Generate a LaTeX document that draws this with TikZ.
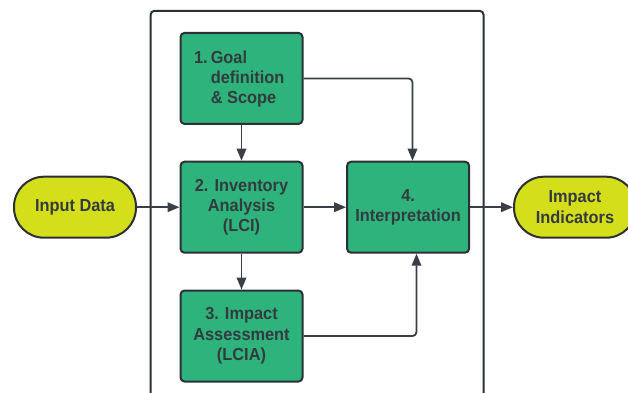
\documentclass[tikz,border=0pt]{standalone}
\usepackage{fontspec}
\setmainfont[FakeStretch=0.94]{Liberation Sans}
\usetikzlibrary{arrows.meta}
\definecolor{boxgreen}{HTML}{2DB37B}
\definecolor{termyellow}{HTML}{D5DE1A}
\definecolor{edgecol}{HTML}{2B3036}
\definecolor{linecol}{HTML}{3A3F47}
\definecolor{txtcol}{HTML}{333B40}
\begin{document}
\begin{tikzpicture}[x=1pt,y=-1pt,
  lbl/.style={text=txtcol, font=\bfseries\fontsize{17.4}{20.3}\selectfont},
  stepbox/.style={lbl, draw=edgecol, line width=2pt, fill=boxgreen, rounded corners=4pt,
    minimum width=122pt, minimum height=91pt, inner sep=0pt, align=center},
  term/.style={lbl, draw=edgecol, line width=2pt, fill=termyellow, rounded corners=30pt,
    minimum width=122pt, minimum height=61pt, inner sep=0pt, align=center},
  conn/.style={draw=linecol, line width=1.8pt, rounded corners=4pt,
    -{Triangle[length=12pt,width=9.5pt]}},
  frame/.style={draw=edgecol, line width=2pt, rounded corners=4pt}]
\useasboundingbox (0,0) rectangle (628,392);
\clip (0,0) rectangle (628,392);
\fill[white] (0,0) rectangle (628,392);

\draw[frame] (150.6,400) -- (150.6,10.8) -- (483.6,10.8) -- (483.6,400);

\node[stepbox] (b1) at (241.5,78.4) {};
\node[lbl, anchor=base west] (b1t) at (190.6,63.3)
  {\begin{tabular}[t]{@{}l@{\hspace{3pt}}l@{}}1.&Goal\\&definition\\&\& Scope\end{tabular}};
\node[stepbox] (b2) at (241.5,207.2) {2. Inventory\\Analysis\\(LCI)};
\node[stepbox] (b3) at (241.5,336) {3. Impact\\Assessment\\(LCIA)};
\node[stepbox] (b4) at (408.1,207.2) {4.\\Interpretation};
\node[term] (in) at (75,207.2) {Input Data};
\node[term] (out) at (575,207.2) {Impact\\Indicators};

\draw[conn] (in.east) -- (b2.west);
\draw[conn] (b2.east) -- (b4.west);
\draw[conn] (b4.east) -- (out.west);
\draw[conn] (b1.south) -- (b2.north);
\draw[conn] (b2.south) -- (b3.north);
\draw[conn] (b1.east) -| ([xshift=4.4pt]b4.north);
\draw[conn] (b3.east) -| ([xshift=8.4pt]b4.south);
\end{tikzpicture}
\end{document}
